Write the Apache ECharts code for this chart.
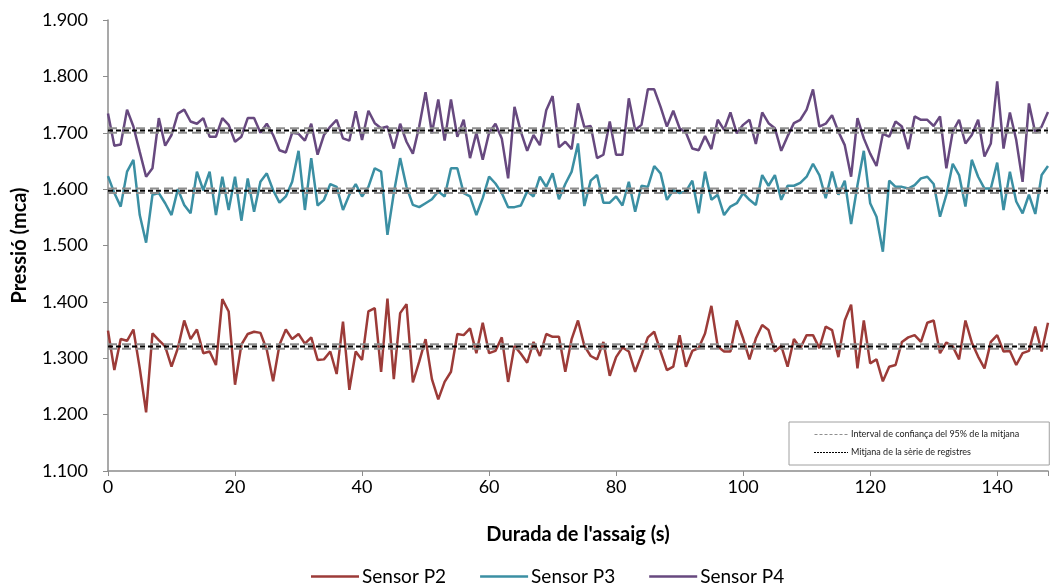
<!DOCTYPE html>
<html>
<head>
<meta charset="utf-8">
<script src="https://cdn.jsdelivr.net/npm/echarts@6/dist/echarts.min.js"></script>
<style>html,body{margin:0;padding:0;background:#fff}#c{width:1051px;height:585px}</style>
</head>
<body>
<div id="c"></div>
<script>
// Time in seconds (one reading per second)
const timeStart = 0, timeEnd = 148;
const sensorNames = ['Sensor P2', 'Sensor P3', 'Sensor P4'];
const sensorP2 = [1.349,1.279,1.334,1.331,1.351,1.282,1.204,1.344,1.332,1.321,1.285,1.318,1.367,1.334,1.351,1.309,1.312,1.288,1.405,1.383,1.253,1.324,1.343,1.347,1.345,1.315,1.259,1.324,1.351,1.334,1.343,1.326,1.337,1.297,1.298,1.312,1.272,1.365,1.244,1.312,
 1.297,1.383,1.389,1.276,1.406,1.263,1.380,1.396,1.257,1.294,1.334,1.263,1.227,1.258,1.276,1.343,1.341,1.353,1.309,1.363,1.309,1.313,1.337,1.258,1.322,1.308,1.292,1.329,1.304,1.343,1.338,1.338,1.276,1.334,1.367,1.322,1.304,1.298,
 1.329,1.269,1.302,1.319,1.312,1.276,1.306,1.337,1.347,1.312,1.279,1.285,1.341,1.285,1.313,1.318,1.344,1.393,1.321,1.312,1.312,1.367,1.335,1.298,1.335,1.359,1.350,1.312,1.322,1.285,1.334,1.318,1.341,1.341,1.318,1.356,1.350,
 1.302,1.367,1.395,1.282,1.367,1.291,1.298,1.259,1.285,1.288,1.329,1.337,1.341,1.329,1.363,1.367,1.309,1.328,1.321,1.298,1.367,1.328,1.303,1.282,1.329,1.341,1.312,1.313,1.288,1.309,1.313,1.356,1.312,1.363];
const sensorP3 = [1.623,1.593,1.569,1.631,1.652,1.554,1.505,1.590,1.593,1.575,1.554,1.600,1.572,1.557,1.631,1.598,1.631,1.554,1.622,1.563,1.622,1.544,1.619,1.560,1.613,1.628,1.598,1.576,1.587,1.613,1.668,1.563,1.655,1.571,1.581,1.609,1.604,1.563,1.590,1.609,
 1.587,1.604,1.637,1.631,1.519,1.593,1.655,1.604,1.572,1.568,1.575,1.582,1.596,1.587,1.637,1.637,1.593,1.587,1.554,1.584,1.622,1.610,1.593,1.568,1.568,1.571,1.596,1.587,1.622,1.604,1.628,1.582,1.609,1.631,1.681,1.570,1.615,1.625,
 1.576,1.576,1.587,1.571,1.613,1.560,1.606,1.604,1.641,1.628,1.581,1.598,1.593,1.596,1.615,1.557,1.631,1.581,1.590,1.554,1.569,1.575,1.593,1.581,1.572,1.625,1.606,1.625,1.581,1.606,1.606,1.611,1.622,1.645,1.625,1.584,1.631,
 1.590,1.615,1.538,1.607,1.668,1.575,1.551,1.489,1.615,1.604,1.604,1.601,1.607,1.619,1.622,1.609,1.551,1.590,1.645,1.625,1.569,1.652,1.622,1.601,1.601,1.647,1.563,1.631,1.578,1.557,1.590,1.556,1.625,1.641];
const sensorP4 = [1.734,1.677,1.679,1.741,1.711,1.666,1.622,1.637,1.726,1.677,1.696,1.734,1.741,1.720,1.716,1.726,1.693,1.693,1.726,1.714,1.684,1.693,1.726,1.726,1.700,1.716,1.696,1.669,1.665,1.700,1.698,1.686,1.716,1.661,1.696,1.711,1.723,1.690,1.686,1.738,
 1.687,1.739,1.717,1.708,1.711,1.672,1.716,1.684,1.663,1.711,1.772,1.699,1.759,1.686,1.759,1.693,1.723,1.655,1.700,1.652,1.700,1.716,1.690,1.619,1.746,1.702,1.668,1.696,1.678,1.740,1.765,1.674,1.684,1.671,1.752,1.710,1.712,1.655,
 1.661,1.720,1.661,1.661,1.761,1.705,1.714,1.777,1.777,1.746,1.711,1.739,1.708,1.700,1.672,1.669,1.694,1.671,1.723,1.705,1.736,1.699,1.714,1.723,1.680,1.736,1.717,1.708,1.668,1.694,1.717,1.723,1.741,1.777,1.711,1.716,1.731,
 1.702,1.678,1.622,1.726,1.690,1.663,1.641,1.698,1.693,1.720,1.711,1.671,1.729,1.723,1.723,1.712,1.729,1.637,1.702,1.723,1.681,1.696,1.723,1.658,1.681,1.791,1.672,1.736,1.687,1.613,1.752,1.700,1.711,1.737];
// Series means and 95% confidence bounds (P2, P3, P4)
const meanValues = [1.321, 1.597, 1.704];
const ciLower = [1.317, 1.593, 1.700];
const ciUpper = [1.325, 1.601, 1.708];
const yTicks = [1.1, 1.2, 1.3, 1.4, 1.5, 1.6, 1.7, 1.8, 1.9];
const xTicks = [0, 20, 40, 60, 80, 100, 120, 140];

const ciName = 'Interval de confiança del 95% de la mitjana';
const meanName = 'Mitjana de la sèrie de registres';
const colors = ['#9c3b38', '#3b8fa3', '#67497f'];
const FONT = 'Lato';

function dashIcon(total, dash, gap) {
  let p = '';
  for (let x = 0; x < total; x += dash + gap) {
    const w = Math.min(dash, total - x);
    p += 'M' + x + ',0h' + w + 'v1h-' + w + 'z';
  }
  return 'path://' + p;
}

const toPairs = arr => arr.map((v, i) => [timeStart + i, v]);
const seriesData = [sensorP2, sensorP3, sensorP4];

const series = [];
seriesData.forEach((arr, k) => {
  series.push({
    name: sensorNames[k], type: 'line', data: toPairs(arr), symbol: 'none',
    lineStyle: { color: colors[k], width: 2.5 }, itemStyle: { color: colors[k] }, z: 2
  });
});
[ciLower, ciUpper].forEach(arr => {
  arr.forEach(v => {
    series.push({
      name: ciName, type: 'line', data: [[timeStart, v], [timeEnd, v]], symbol: 'none', silent: true,
      lineStyle: { color: '#8f8f8f', width: 2, type: [9, 5] }, itemStyle: { color: '#8f8f8f' }, z: 3
    });
  });
});
meanValues.forEach(v => {
  series.push({
    name: meanName, type: 'line', data: [[timeStart, v], [timeEnd, v]], symbol: 'none', silent: true,
    lineStyle: { color: '#000', width: 2, type: [5, 3] }, itemStyle: { color: '#000' }, z: 4
  });
});

const chart = echarts.init(document.getElementById('c'), null, { renderer: 'canvas' });
chart.setOption({
  animation: false,
  backgroundColor: '#fff',
  textStyle: { fontFamily: FONT },
  grid: { left: 108, right: 1, top: 20, bottom: 114, containLabel: false },
  xAxis: {
    type: 'value', min: timeStart, max: timeEnd, interval: 20,
    name: "Durada de l'assaig (s)", nameLocation: 'middle', nameGap: 54,
    nameTextStyle: { fontSize: 20, fontWeight: 'bold', color: '#000', fontFamily: FONT },
    axisLine: { show: true, lineStyle: { color: '#8c8c8c', width: 1.5 } },
    axisTick: { show: true, length: 5, lineStyle: { color: '#8c8c8c' } },
    axisLabel: { fontSize: 18, color: '#000', margin: 7, fontFamily: FONT,
      formatter: v => xTicks.includes(v) ? String(v) : '' },
    splitLine: { show: false }
  },
  yAxis: {
    type: 'value', min: yTicks[0], max: yTicks[yTicks.length - 1], interval: 0.1,
    name: 'Pressió (mca)', nameLocation: 'middle', nameGap: 78,
    nameTextStyle: { fontSize: 20, fontWeight: 'bold', color: '#000', fontFamily: FONT },
    axisLine: { show: true, lineStyle: { color: '#8c8c8c', width: 1.5 } },
    axisTick: { show: true, length: 5, lineStyle: { color: '#8c8c8c' } },
    axisLabel: { fontSize: 18, color: '#000', margin: 20, fontFamily: FONT,
      formatter: v => v.toFixed(3) },
    splitLine: { show: false }
  },
  legend: [
    {
      data: sensorNames, top: 562, left: 306, itemWidth: 48, itemHeight: 10, itemGap: 34,
      icon: 'path://M0,0 L48,0 L48,2.5 L0,2.5 Z',
      textStyle: { fontSize: 19, color: '#000', fontFamily: FONT, padding: [0, 0, 0, -2] }
    },
    {
      orient: 'vertical', left: 789, top: 422,
      itemWidth: 34, itemHeight: 1, itemGap: 9,
      data: [
        { name: ciName, icon: dashIcon(34, 3, 2) },
        { name: meanName, icon: dashIcon(34, 2, 1) }
      ],
      padding: [8, 30, 8, 25], borderColor: '#a0a0a0', borderWidth: 1, backgroundColor: '#fff',
      textStyle: { fontSize: 9, color: '#222', fontFamily: FONT, padding: [0, 0, 0, -2] }
    }
  ],
  series: series
});
</script>
</body>
</html>
